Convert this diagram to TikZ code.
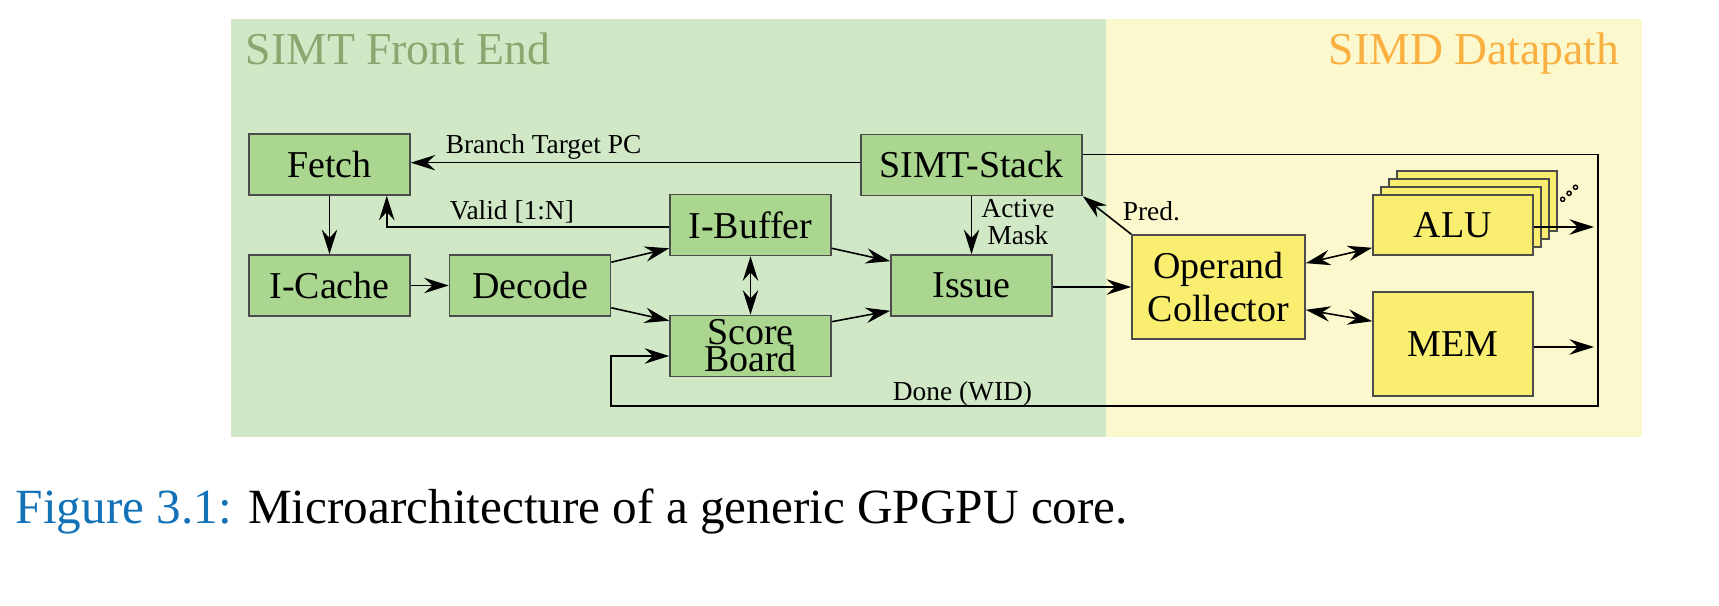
\documentclass[tikz,border=0pt]{standalone}
\usepackage{fontspec}
\setmainfont{Liberation Serif}
\usetikzlibrary{arrows.meta}

\definecolor{frontbg}{RGB}{209,232,199}
\definecolor{simdbg}{RGB}{252,248,206}
\definecolor{greenbox}{RGB}{170,214,143}
\definecolor{yellowbox}{RGB}{249,238,112}
\definecolor{fronttitle}{RGB}{136,168,112}
\definecolor{simdtitle}{RGB}{250,176,64}
\definecolor{capblue}{RGB}{18,113,183}

\tikzset{
	gblock/.style={draw=black!70, fill=greenbox, minimum width=1.61cm, minimum height=0.61cm,
		inner sep=0pt, align=center, font=\fontsize{10.8}{12.3}\selectfont},
	yblock/.style={gblock, fill=yellowbox},
	lbl/.style={inner sep=0pt, font=\fontsize{7.8}{7.7}\selectfont},
	title/.style={inner sep=0pt, anchor=base west, font=\fontsize{13}{15}\selectfont},
	>={Stealth[length=7pt,width=4.4pt,inset=2.4pt]}
}

\begin{document}
\begin{tikzpicture}[line width=0.45pt]
		\useasboundingbox (0,0) rectangle (17.19,6.06);
		%background
		\fill[frontbg] (2.31,1.69) rectangle (11.06,5.87);
		\fill[simdbg] (11.06,1.69) rectangle (16.42,5.87);
		\node (fronttxt) at (2.45,5.41) [title, text=fronttitle]{SIMT Front End};
		\node (simdtxt) at (13.28,5.41) [title, text=simdtitle]{SIMD Datapath};
		
		%front end
		\node (fetch) at (3.295, 4.415) [gblock]{Fetch};
		\node (icache) at (3.295, 3.205) [gblock]{I-Cache};
		\node (decode) at (5.30, 3.205) [gblock]{Decode};
		\node (ibuf) at (7.505, 3.81) [gblock]{I-Buffer};
		\node (sb) at (7.505, 2.60) [gblock]{Score\\[-4.6pt]Board};
		\node (issue) at (9.715, 3.205) [gblock]{Issue};
		\node (stack) at (9.715, 4.41) [gblock, minimum width=2.21cm]{SIMT-Stack};
		
		%datapath
		\node (oc) at (12.185, 3.19) [yblock, minimum width=1.73cm, minimum height=1.04cm]{Operand\\Collector};
		\foreach \i in {3,2,1}{
			\draw[black!70, fill=yellowbox] (13.73+0.08*\i, 3.51+0.08*\i) rectangle (15.33+0.08*\i, 4.11+0.08*\i);
		}
		\node (alu) at (14.53, 3.81) [yblock, minimum width=1.60cm, minimum height=0.60cm]{ALU};
		\node (mem) at (14.53, 2.62) [yblock, minimum width=1.60cm, minimum height=1.04cm]{MEM};
		\foreach \k in {0,1,2}{
			\draw[line width=0.4pt] (15.627+0.064*\k, 4.067+0.06*\k) circle (0.021);
		}
		
		%signals
		\draw[->] (stack.west |- 0,4.433) -- (fetch.east |- 0,4.433);
		\node (branchlbl) at (4.45, 4.52) [lbl, anchor=base west]{Branch Target PC};
		\draw[->] (ibuf.west |- 0,3.79) -| ([xshift=-2.4mm]fetch.south east);
		\node (validlbl) at (4.49, 3.86) [lbl, anchor=base west]{Valid [1:N]};
		\draw[->] (fetch) -- (icache);
		\draw[->] (icache) -- (decode);
		\draw[->] ([yshift=-0.8mm]decode.north east) -- ([yshift=0.8mm]ibuf.south west);
		\draw[->] ([yshift=0.9mm]decode.south east) -- ([yshift=-0.6mm]sb.north west);
		\draw[<->] (ibuf) -- (sb);
		\draw[->] ([yshift=0.8mm]ibuf.south east) -- ([yshift=-0.7mm]issue.north west);
		\draw[->] ([yshift=-0.7mm]sb.north east) -- ([yshift=0.6mm]issue.south west);
		\draw[->] (stack) -- (issue);
		\node (masklbl) at (10.18, 4.07) [lbl, anchor=north, align=center]{Active\\Mask};
		\draw[->] (issue.east |- 0,3.19) -- (oc.west);
		\draw[->] (oc.north west) -- (stack.south east);
		\node (predlbl) at (11.22, 3.85) [lbl, anchor=base west]{Pred.};
		\draw[<->] ([yshift=-2.9mm]oc.north east) -- ([yshift=0.8mm]alu.south west);
		\draw[<->] ([yshift=3.0mm]oc.south east) -- ([yshift=-3.0mm]mem.north west);
		
		%outputs
		\coordinate (aluout) at (15.94, 3.79);
		\coordinate (memout) at (15.94, 2.59);
		\draw[->] (alu.east |- aluout) -- (aluout);
		\draw[->] (mem.east |- memout) -- (memout);
		
		%done loop
		\coordinate (tr) at (15.98, 4.515);
		\coordinate (br) at (15.98, 2.00);
		\coordinate (bl) at (6.11, 2.00);
		\coordinate (tl) at (6.11, 2.50);
		\draw[->] (stack.east |- tr) -- (tr) -- (br) -- (bl) -- (tl) -- (tl -| sb.west);
		\node (donelbl) at (8.92, 2.05) [lbl, anchor=base west]{Done (WID)};
		
		%caption
		\node (caption) at (0.15, 0.82) [inner sep=0pt, anchor=base west, font=\fontsize{14}{16}\selectfont]{\textcolor{capblue}{Figure 3.1:} Microarchitecture of a generic GPGPU core.};
\end{tikzpicture}
\end{document}
